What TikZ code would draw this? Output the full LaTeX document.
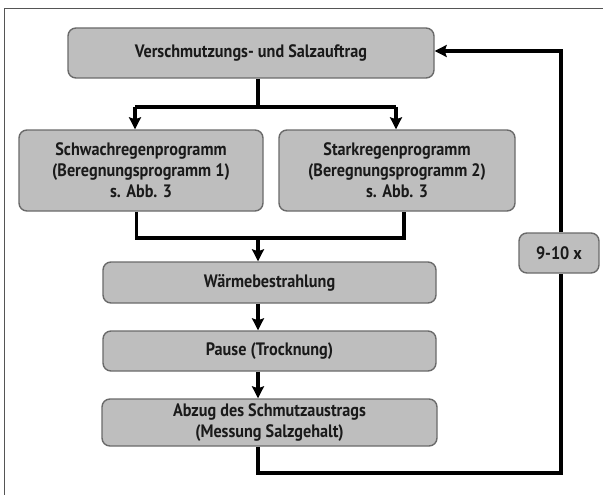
\documentclass[tikz,border=0pt]{standalone}
\usepackage{fontspec}
\setmainfont{PT Sans}[FakeStretch=0.9]
\usetikzlibrary{arrows.meta}
\definecolor{boxfill}{HTML}{BEBEBE}
\definecolor{boxline}{HTML}{6A6A6A}
\definecolor{framecol}{HTML}{555555}
\definecolor{textcol}{HTML}{1A1A1A}
\tikzset{
  stepbox/.style={draw=boxline, fill=boxfill, line width=1.4pt, rounded corners=8pt,
    align=center, inner sep=0pt, text=textcol,
    font=\fontsize{18}{21}\selectfont\bfseries},
  conn/.style={line width=3.2pt, black},
  arr/.style={conn, -{Stealth[length=12pt, width=12pt, inset=2pt]}},
}
\begin{document}
\begin{tikzpicture}[x=1pt, y=-1pt]
  \useasboundingbox (0,0) rectangle (603,495);
  % open frame (top and left edges)
  \draw[framecol, line width=1pt] (4.5,495) -- (4.5,8.5) -- (603,8.5);

  % process steps
  \node[stepbox, minimum width=366pt, minimum height=50pt] (top) at (251,53)
    {Verschmutzungs- und Salzauftrag};
  \node[stepbox, minimum width=244pt, minimum height=81pt] (schwach) at (141,170.5)
    {Schwachregenprogramm\\(Beregnungsprogramm 1)\\s. Abb. 3};
  \node[stepbox, minimum width=236pt, minimum height=81pt] (stark) at (397,170.5)
    {Starkregenprogramm\\(Beregnungsprogramm 2)\\s. Abb. 3};
  \node[stepbox, minimum width=333pt, minimum height=41pt] (waerme) at (269.5,282.5)
    {Wärmebestrahlung};
  \node[stepbox, minimum width=333pt, minimum height=40pt] (pause) at (269.5,351)
    {Pause (Trocknung)};
  \node[stepbox, minimum width=335pt, minimum height=47pt] (abzug) at (269.5,422.5)
    {Abzug des Schmutzaustrags\\(Messung Salzgehalt)};
  \node[stepbox, minimum width=80pt, minimum height=40pt] (nine) at (559,253)
    {9-10 x};

  % routing points
  \coordinate (jC) at (258,107);
  \coordinate (jL) at (135,107);
  \coordinate (jR) at (396,107);
  \coordinate (mC) at (258,238);
  \coordinate (mL) at (136.5,238);
  \coordinate (mR) at (404,238);
  \coordinate (bC) at (258,473);
  \coordinate (loopB) at (561,473);
  \coordinate (loopT) at (561,51);

  % split into the two rain programmes
  \draw[conn] (top.south -| jC) -- (jC);
  \draw[conn] (jL) -- (jR);
  \draw[arr] (jL) -- (jL |- schwach.north);
  \draw[arr] (jR) -- (jR |- stark.north);

  % merge back
  \draw[conn] (schwach.south -| mL) -- (mL) -- (mR) -- (stark.south -| mR);
  \draw[arr] (mC) -- (mC |- waerme.north);
  \draw[arr] (waerme.south -| mC) -- (pause.north -| mC);
  \draw[arr] (pause.south -| mC) -- (abzug.north -| mC);

  % repetition loop
  \draw[conn] (abzug.south -| bC) -- (bC) -- (loopB) -- (nine.south -| loopB);
  \draw[arr] (nine.north -| loopT) -- (loopT) -- (top.east |- loopT);
\end{tikzpicture}
\end{document}
